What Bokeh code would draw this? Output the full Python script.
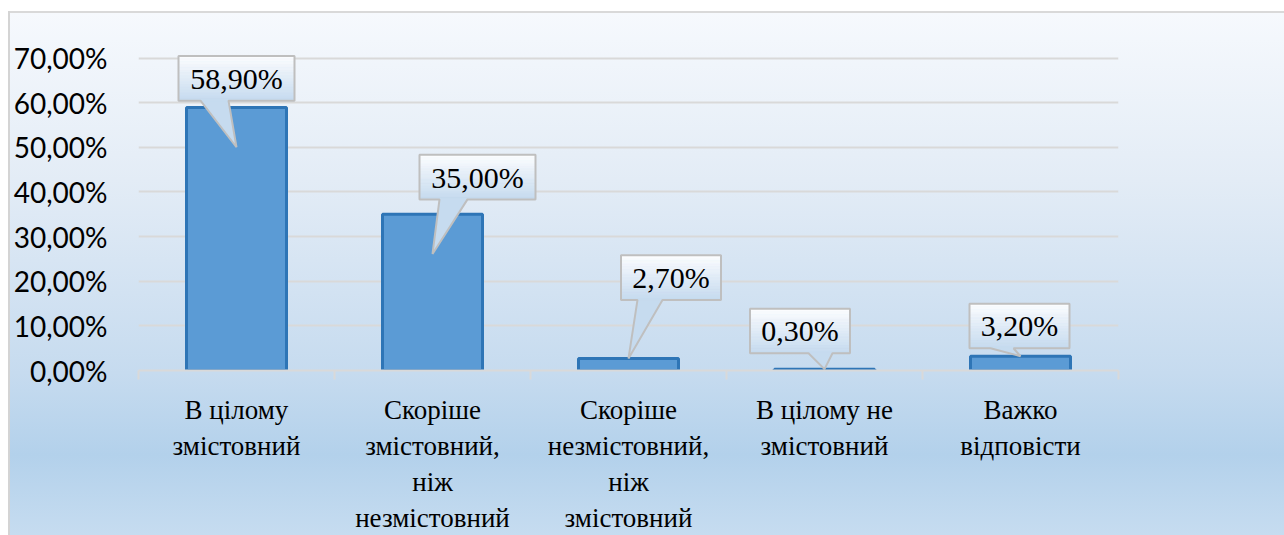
from bokeh.plotting import figure
from bokeh.models import Range1d, FixedTicker
from bokeh.core.properties import value
from bokeh.embed import file_html
from bokeh.resources import INLINE

# ---------------- data ----------------
categories = [
    "В цілому\nзмістовний",
    "Скоріше\nзмістовний,\nніж\nнезмістовний",
    "Скоріше\nнезмістовний,\nніж\nзмістовний",
    "В цілому не\nзмістовний",
    "Важко\nвідповісти",
]
values = [0.589, 0.350, 0.027, 0.003, 0.032]
y_ticks = [0.0, 0.1, 0.2, 0.3, 0.4, 0.5, 0.6, 0.7]
y_tick_labels = ["0,00%", "10,00%", "20,00%", "30,00%", "40,00%", "50,00%", "60,00%", "70,00%"]
value_labels = [("%.2f%%" % (v * 100)).replace(".", ",") for v in values]

# ---------------- layout / style constants ----------------
SERIF = "'Liberation Serif', 'Times New Roman', serif"
W, H = 1284, 535
FRAME_L, FRAME_W, FRAME_H = 138, 980, 373
PX_X = FRAME_W / len(categories)      # pixels per category
PX_Y = 450.0                           # pixels per 100 %
Y_MAX = FRAME_H / PX_Y

# callout geometry in pixels (box offset, gap above bar, box width, pointer base, tip depth)
box_dx = [0, 45, 42.5, -24.5, -1]
box_gap = [7, 15, 59, 16, 8]
box_w = [116, 116, 100, 100, 100]
BOX_H = 45
ptr_base = [(-36, -8), (-38, -10), (-33.5, -8.5), (8.5, 32.5), (-29, -6)]
tip_depth = [40, 40, 0, 0, 0]

centers = [i + 0.5 for i in range(len(categories))]

p = figure(
    width=W, height=H,
    x_range=Range1d(0, len(categories)), y_range=Range1d(0, Y_MAX),
    output_backend="svg", toolbar_location=None,
    min_border_left=FRAME_L, min_border_right=W - FRAME_L - FRAME_W,
    min_border_top=0, min_border_bottom=H - FRAME_H,
)
p.background_fill_color = None
p.border_fill_color = None
p.outline_line_color = None
p.styles = {
    "background": (
        "linear-gradient(to bottom, #ffffff 0px, #ffffff 11px, rgba(255,255,255,0) 11px),"
        "linear-gradient(to right, #ffffff 0px, #ffffff 8px, #d4d4d4 8px, #d4d4d4 10px, rgba(255,255,255,0) 10px),"
        "linear-gradient(to bottom, #d9d9d9 0px, #d9d9d9 13px, #f6f9fd 13px, #e3ecf6 180px,"
        " #c6dbef 373px, #b3d1eb 455px, #c6dcf0 535px)"
    )
}

# grid
p.xgrid.visible = False
p.ygrid.ticker = FixedTicker(ticks=y_ticks)
p.ygrid.grid_line_color = "#d9d9d9"
p.ygrid.grid_line_width = 2

# y axis
p.yaxis.ticker = FixedTicker(ticks=y_ticks)
p.yaxis.major_label_overrides = dict(zip(y_ticks, y_tick_labels))
p.yaxis.axis_line_color = None
p.yaxis.major_tick_line_color = None
p.yaxis.minor_tick_line_color = None
p.yaxis.major_tick_out = 0
p.yaxis.major_tick_in = 0
p.yaxis.minor_tick_out = 0
p.yaxis.minor_tick_in = 0
p.yaxis.major_label_standoff = 31
p.yaxis.major_label_text_font = "Lato"
p.yaxis.major_label_text_font_size = "28px"
p.yaxis.major_label_text_color = "#000000"

# x axis
p.xaxis.ticker = FixedTicker(ticks=centers, minor_ticks=list(range(len(categories) + 1)))
p.xaxis.major_label_overrides = dict(zip(centers, categories))
p.xaxis.axis_line_color = "#d9d9d9"
p.xaxis.axis_line_width = 2
p.xaxis.major_tick_line_color = None
p.xaxis.major_tick_out = 0
p.xaxis.major_tick_in = 0
p.xaxis.minor_tick_line_color = "#d9d9d9"
p.xaxis.minor_tick_line_width = 2
p.xaxis.minor_tick_out = 9
p.xaxis.minor_tick_in = 0
p.xaxis.major_label_standoff = 15
p.xaxis.major_label_text_font = SERIF
p.xaxis.major_label_text_font_size = "27px"
p.xaxis.major_label_text_line_height = 1.2
p.xaxis.major_label_text_color = "#000000"

# bars
p.vbar(x=centers, top=values, bottom=0, width=0.51,
       fill_color="#5b9bd5", line_color="#2e75b6", line_width=3)

# callouts
xs, ys, cxs, cys = [], [], [], []
sl, sr, sb, st, sc = [], [], [], [], []
N = 16
c0 = (0xc6, 0xdb, 0xef)
c1 = (0xfb, 0xfc, 0xfe)
for i, v in enumerate(values):
    cx = centers[i] + box_dx[i] / PX_X
    bb = v + box_gap[i] / PX_Y
    bt = bb + BOX_H / PX_Y
    l = cx - box_w[i] / 2 / PX_X
    r = cx + box_w[i] / 2 / PX_X
    bl = cx + ptr_base[i][0] / PX_X
    br = cx + ptr_base[i][1] / PX_X
    tx = centers[i]
    ty = v - tip_depth[i] / PX_Y
    xs.append([l, r, r, br, tx, bl, l])
    ys.append([bt, bt, bb, bb, ty, bb, bb])
    cxs.append(cx)
    cys.append((bb + bt) / 2)
    for k in range(N):
        f = k / (N - 1)
        col = "#%02x%02x%02x" % tuple(int(round(c0[j] + (c1[j] - c0[j]) * f)) for j in range(3))
        sl.append(l)
        sr.append(r)
        sb.append(bb + (bt - bb) * k / N)
        st.append(bb + (bt - bb) * (k + 1) / N)
        sc.append(col)

p.patches(xs, ys, fill_color="#c6dbef", line_color=None)
p.quad(left=sl, right=sr, bottom=sb, top=st, fill_color=sc, line_color=sc, line_width=0.5)
p.patches(xs, ys, fill_color=None, line_color="#bfbfbf", line_width=2)
p.text(x=cxs, y=cys, text=value_labels, text_align="center", text_baseline="middle",
       text_font=value(SERIF), text_font_size="30px", text_color="#000000")

open("out.html", "w").write(file_html(p, INLINE))
